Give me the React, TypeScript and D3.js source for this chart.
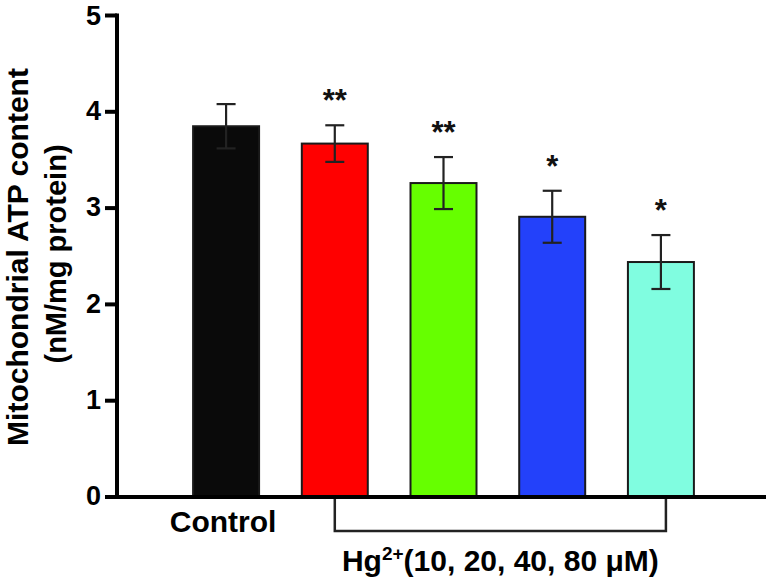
import React from "react";
import * as d3 from "d3";

const categories = ["Control", "Hg 10", "Hg 20", "Hg 40", "Hg 80"];
const means = [3.85, 3.67, 3.26, 2.91, 2.44];
const errors = [0.23, 0.19, 0.27, 0.27, 0.28];
const stars = ["", "**", "**", "*", "*"];
const colors = ["#0a0a0a", "#ff0000", "#66ff00", "#2341fa", "#80fde0"];
const yTicks = [0, 1, 2, 3, 4, 5];

const W = 767;
const H = 584;
const FONT = "'Liberation Sans', Arial, Helvetica, sans-serif";

export default function App() {
  const y = d3.scaleLinear().domain([0, 5]).range([497, 15.5]);
  const x = d3
    .scaleBand<string>()
    .domain(categories)
    .range([117, 770])
    .paddingInner(0.393)
    .paddingOuter(0.7);
  const bw = x.bandwidth();
  const cx = (c: string) => (x(c) as number) + bw / 2;
  const axisX = 117;
  const axisY = y(0);
  const bracketL = cx(categories[1]);
  const bracketR = cx(categories[categories.length - 1]) + 5;
  const bracketBottom = 531;

  return (
    <svg
      width={W}
      height={H}
      style={{ position: "absolute", left: 0, top: 0, background: "#fff" }}
      fontFamily={FONT}
      fontWeight="bold"
    >
      {/* bars */}
      {categories.map((c, i) => (
        <rect
          key={c}
          x={x(c)}
          y={y(means[i])}
          width={bw}
          height={axisY - y(means[i])}
          fill={colors[i]}
          stroke="#1a1a1a"
          strokeWidth={2}
        />
      ))}
      {/* error bars */}
      {categories.map((c, i) => {
        const top = y(means[i] + errors[i]);
        const bot = y(means[i] - errors[i]);
        const xc = cx(c);
        return (
          <g key={"e" + c} stroke="#222" strokeWidth={2.2}>
            <line x1={xc} x2={xc} y1={top} y2={bot} />
            <line x1={xc - 9.5} x2={xc + 9.5} y1={top} y2={top} />
            <line x1={xc - 9.5} x2={xc + 9.5} y1={bot} y2={bot} />
          </g>
        );
      })}
      {/* significance stars */}
      {categories.map((c, i) =>
        stars[i] ? (
          <text
            key={"s" + c}
            x={cx(c)}
            y={y(means[i] + errors[i]) - 14}
            textAnchor="middle"
            fontSize={31}
            fill="#111"
          >
            {stars[i]}
          </text>
        ) : null
      )}
      {/* axes */}
      <line x1={axisX} x2={axisX} y1={y(5) - 2} y2={axisY + 2} stroke="#000" strokeWidth={4} />
      <line x1={axisX - 2} x2={766} y1={axisY} y2={axisY} stroke="#000" strokeWidth={4} />
      {yTicks.map((t) => (
        <g key={"t" + t}>
          <line x1={105} x2={axisX} y1={y(t)} y2={y(t)} stroke="#000" strokeWidth={4} />
          <text
            x={101}
            y={y(t)}
            dy={t === 5 ? "0.36em" : "0.3em"}
            textAnchor="end"
            fontSize={27}
            fill="#000"
          >
            {t}
          </text>
        </g>
      ))}
      {/* y axis title */}
      <text
        transform={`translate(28,257) rotate(-90)`}
        textAnchor="middle"
        fontSize={30}
        fill="#000"
      >
        Mitochondrial ATP content
      </text>
      <text
        transform={`translate(66,254) rotate(-90)`}
        textAnchor="middle"
        fontSize={29}
        fill="#000"
      >
        (nM/mg protein)
      </text>
      {/* control label */}
      <text x={cx(categories[0]) - 3} y={532} textAnchor="middle" fontSize={30} fill="#000">
        Control
      </text>
      {/* bracket */}
      <path
        d={`M${bracketL},${axisY + 2}V${bracketBottom}H${bracketR}V${axisY + 2}`}
        fill="none"
        stroke="#222"
        strokeWidth={2.5}
      />
      <text x={(bracketL + bracketR) / 2} y={571} textAnchor="middle" fontSize={30} fill="#000">
        Hg
        <tspan fontSize={19} dy={-11}>2+</tspan>
        <tspan dy={11}>(10, 20, 40, 80 μM)</tspan>
      </text>
    </svg>
  );
}
